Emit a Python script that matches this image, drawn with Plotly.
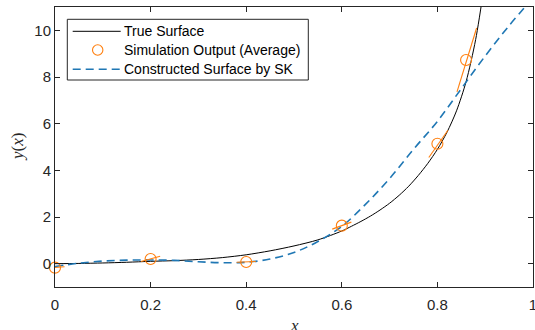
import plotly.graph_objects as go

# ---- data ----
true_x = [0, 0.05, 0.1, 0.15, 0.2, 0.25, 0.3, 0.35, 0.4, 0.45, 0.5, 0.55, 0.6,
          0.62, 0.64, 0.66, 0.68, 0.7, 0.72, 0.74, 0.76, 0.78, 0.8, 0.82, 0.84, 0.86,
          0.88, 0.9]
true_y = [0, 0.01, 0.03, 0.06, 0.1, 0.13, 0.18, 0.26, 0.38, 0.55, 0.76, 1.02, 1.4,
          1.6, 1.81, 2.04, 2.3, 2.59, 2.93, 3.32, 3.78, 4.3, 4.9, 5.63, 6.55, 7.8,
          9.6, 12.2]

sk_x = [0, 0.05, 0.1, 0.15, 0.2, 0.25, 0.3, 0.35, 0.4, 0.45, 0.5, 0.55, 0.6, 0.65,
        0.7, 0.75, 0.8, 0.85, 0.9, 0.95, 1.0]
sk_y = [-0.12, 0.02, 0.11, 0.15, 0.16, 0.14, 0.08, 0.04, 0.06, 0.2, 0.48, 0.95, 1.6, 2.55,
        3.65, 4.9, 6.1, 7.5, 8.9, 10.2, 11.4]

sim_x = [0, 0.2, 0.4, 0.6, 0.8, 0.86]
sim_y = [-0.17, 0.2, 0.07, 1.63, 5.14, 8.73]

# gradient segments drawn through each simulation point
grad_x0 = [-0.02, 0.18, 0.38, 0.58, 0.782, 0.841]
grad_y0 = [-0.2, 0.09, 0.06, 1.48, 4.55, 7.36]
grad_x1 = [0.02, 0.22, 0.42, 0.62, 0.822, 0.882]
grad_y1 = [-0.13, 0.32, 0.09, 1.78, 5.72, 10.1]

x_ticks = [0, 0.2, 0.4, 0.6, 0.8, 1]
x_tick_text = ["0", "0.2", "0.4", "0.6", "0.8", "1"]
y_ticks = [0, 2, 4, 6, 8, 10]
y_tick_text = ["0", "2", "4", "6", "8", "10"]

legend_names = ["True Surface", "Simulation Output (Average)", "Constructed Surface by SK"]

ORANGE = "#ff7f0e"
BLUE = "#1f77b4"
AX = "#262626"
FONT = "Liberation Sans, Arial, Helvetica, sans-serif"
SERIF = "Liberation Serif, DejaVu Serif, serif"

W, H = 535, 330
ML, MR, MT, MB = 55, 2, 7, 43
PW, PH = W - ML - MR, H - MT - MB


def px_x(p):
    return (p - ML) / PW


def px_y(p):
    return (H - MB - p) / PH


seg_x, seg_y = [], []
for a, b, c, d in zip(grad_x0, grad_y0, grad_x1, grad_y1):
    seg_x += [a, c, None]
    seg_y += [b, d, None]

fig = go.Figure()
fig.add_trace(go.Scatter(x=true_x, y=true_y, mode="lines", name=legend_names[0],
                         line=dict(color="black", width=1, shape="spline", smoothing=0.8)))
fig.add_trace(go.Scatter(x=sk_x, y=sk_y, mode="lines", name=legend_names[2],
                         line=dict(color=BLUE, width=1.6, dash="8px,5px", shape="spline")))
fig.add_trace(go.Scatter(x=seg_x, y=seg_y, mode="lines", showlegend=False,
                         line=dict(color=ORANGE, width=1.1)))
fig.add_trace(go.Scatter(x=sim_x, y=sim_y, mode="markers", name=legend_names[1],
                         marker=dict(symbol="circle-open", size=11, color=ORANGE,
                                     line=dict(width=1.1, color=ORANGE)),
                         cliponaxis=False))

axis_common = dict(showline=True, linecolor=AX, linewidth=1, mirror="ticks",
                   ticks="inside", ticklen=5, tickcolor=AX, tickwidth=1,
                   showgrid=False, zeroline=False, automargin=False,
                   ticklabeloverflow="allow",
                   tickfont=dict(family=FONT, size=15, color=AX))

# ---- manual legend (MATLAB style) ----
box = dict(x0=67.3, x1=308.3, y0=19.3, y1=80)
rows = [31.3, 50, 69.3]
shapes = [dict(type="rect", xref="paper", yref="paper",
               x0=px_x(box["x0"]), x1=px_x(box["x1"]),
               y0=px_y(box["y1"]), y1=px_y(box["y0"]),
               fillcolor="white", line=dict(color=AX, width=1), layer="above")]
shapes.append(dict(type="line", xref="paper", yref="paper",
                   x0=px_x(72.7), x1=px_x(120.7), y0=px_y(rows[0]), y1=px_y(rows[0]),
                   line=dict(color="black", width=1), layer="above"))
shapes.append(dict(type="line", xref="paper", yref="paper",
                   x0=px_x(72.7), x1=px_x(120.7), y0=px_y(rows[2]), y1=px_y(rows[2]),
                   line=dict(color=BLUE, width=1.6, dash="8px,5px"), layer="above"))
shapes.append(dict(type="circle", xref="paper", yref="paper",
                   xsizemode="pixel", ysizemode="pixel",
                   xanchor=px_x(97.7), yanchor=px_y(rows[1]),
                   x0=-5.2, x1=5.2, y0=-5.2, y1=5.2,
                   line=dict(color=ORANGE, width=1.1), layer="above"))

annotations = []
for name, ry in zip(legend_names, rows):
    annotations.append(dict(text=name, xref="paper", yref="paper",
                            x=px_x(123), y=px_y(ry), xanchor="left", yanchor="middle",
                            showarrow=False, borderpad=0,
                            font=dict(family=FONT, size=14, color="black")))
annotations += [
    dict(text="<i>x</i>", xref="paper", yref="paper", x=0.5, y=0,
         xanchor="center", yanchor="top", yshift=-27, showarrow=False,
         font=dict(family=SERIF, size=17, color=AX)),
    dict(text="<i>y</i>(<i>x</i>)", xref="paper", yref="paper", x=0, y=0.5,
         xanchor="center", yanchor="middle", xshift=-38, textangle=-90, showarrow=False,
         font=dict(family=SERIF, size=17, color=AX)),
]

fig.update_layout(
    width=W, height=H,
    margin=dict(l=ML, r=MR, t=MT, b=MB, autoexpand=False),
    paper_bgcolor="white", plot_bgcolor="white",
    xaxis=dict(range=[0, 1], tickvals=x_ticks, ticktext=x_tick_text,
               ticklabelstandoff=4, **axis_common),
    yaxis=dict(range=[-1, 11], tickvals=y_ticks, ticktext=y_tick_text, **axis_common),
    showlegend=False,
    shapes=shapes,
    annotations=annotations,
)

fig.write_html(
    "out.html",
    config={"displayModeBar": False},
    post_script=(
        "document.body.style.margin='0';"
        "document.body.style.overflow='hidden';"
        "document.documentElement.style.overflow='hidden';"
    ),
)
